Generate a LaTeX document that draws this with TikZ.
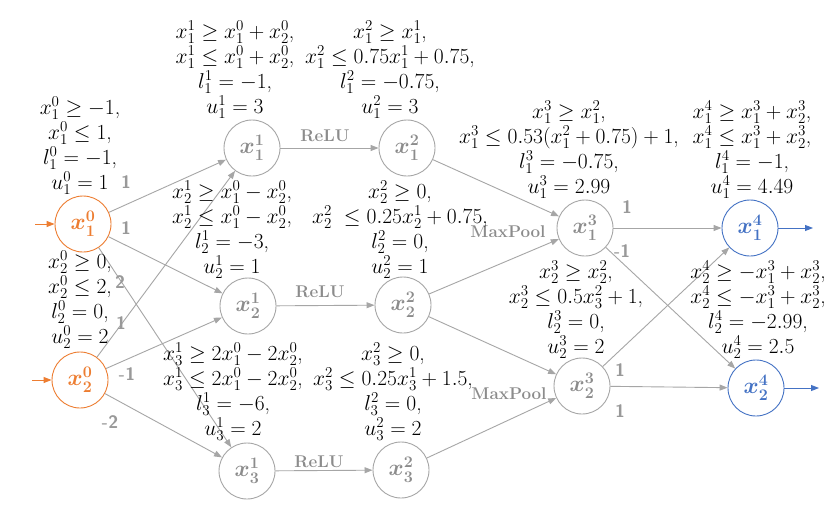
\RequirePackage{fix-cm}
\documentclass[tikz,border=0pt]{standalone}
\usetikzlibrary{arrows.meta}
\definecolor{gr}{HTML}{A6A6A6}
\definecolor{gtext}{HTML}{8C8C8C}
\definecolor{wtext}{HTML}{999999}
\definecolor{org}{HTML}{ED7D31}
\definecolor{blu}{HTML}{4472C4}
\begin{document}
\begin{tikzpicture}[x=1pt,y=-1pt,
 neuron/.style={circle,draw=gr,line width=0.9pt,minimum size=56pt,inner sep=0pt,text=gtext,font=\fontsize{23}{26}\selectfont\boldmath},
 inneuron/.style={neuron,draw=org,text=org},
 outneuron/.style={neuron,draw=blu,text=blu},
 conn/.style={draw=gr,line width=0.9pt,-{Triangle[length=8pt,width=6pt]}},
 inconn/.style={conn,draw=org,fill=org},
 outconn/.style={conn,draw=blu,fill=blu},
 wlab/.style={text=wtext,font=\fontsize{18}{20}\sffamily\bfseries\selectfont,inner sep=0pt},
 oplab/.style={text=gtext,font=\fontsize{17}{20}\bfseries\selectfont,inner sep=0pt},
 cons/.style={align=center,font=\fontsize{21.5}{25}\selectfont,inner sep=0pt}]
\fill[white] (0,0) rectangle (832,514);
\useasboundingbox (0,0) rectangle (832,514);
% neurons
\node[inneuron] (a1) at (83,224) {$x^{0}_{1}$};
\node[inneuron] (a2) at (80,380) {$x^{0}_{2}$};
\node[neuron] (b1) at (252,148) {$x^{1}_{1}$};
\node[neuron] (b2) at (248,306) {$x^{1}_{2}$};
\node[neuron] (b3) at (247,471) {$x^{1}_{3}$};
\node[neuron] (c1) at (407,148) {$x^{2}_{1}$};
\node[neuron] (c2) at (403,305) {$x^{2}_{2}$};
\node[neuron] (c3) at (401,470) {$x^{2}_{3}$};
\node[neuron] (d1) at (585,228) {$x^{3}_{1}$};
\node[neuron] (d2) at (582,386) {$x^{3}_{2}$};
\node[outneuron] (e1) at (750,228) {$x^{4}_{1}$};
\node[outneuron] (e2) at (756,388) {$x^{4}_{2}$};
% in / out
\coordinate (i1) at (35,224);
\coordinate (i2) at (32,380);
\coordinate (o1) at (813,228);
\coordinate (o2) at (819,388);
\draw[inconn] (i1) -- (a1);
\draw[inconn] (i2) -- (a2);
\draw[outconn] (e1) -- (o1);
\draw[outconn] (e2) -- (o2);
% connections
\draw[conn] (a1) -- (b1);
\draw[conn] (a1) -- (b2);
\draw[conn] (a1) -- (b3);
\draw[conn] (a2) -- (b1);
\draw[conn] (a2) -- (b2);
\draw[conn] (a2) -- (b3);
\draw[conn] (b1) -- (c1);
\draw[conn] (b2) -- (c2);
\draw[conn] (b3) -- (c3);
\draw[conn] (c1) -- (d1);
\draw[conn] (c2) -- (d1);
\draw[conn] (c2) -- (d2);
\draw[conn] (c3) -- (d2);
\draw[conn] (d1) -- (e1);
\draw[conn] (d1) -- (e2);
\draw[conn] (d2) -- (e1);
\draw[conn] (d2) -- (e2);
% weights
\node[wlab] (w1) at (126,182) {1};
\node[wlab] (w2) at (126,228) {1};
\node[wlab] (w3) at (120,282) {2};
\node[wlab] (w4) at (121,323) {1};
\node[wlab] (w5) at (127,374) {-1};
\node[wlab] (w6) at (110,422) {-2};
\node[wlab] (w7) at (627,207) {1};
\node[wlab] (w8) at (622,251) {-1};
\node[wlab] (w9) at (620,370) {1};
\node[wlab] (w10) at (620,411) {1};
% operations
\node[oplab] (r1) at (325,136) {ReLU};
\node[oplab] (r2) at (320,292) {ReLU};
\node[oplab] (r3) at (319,462) {ReLU};
\node[oplab] (m1) at (508,232) {MaxPool};
\node[oplab] (m2) at (509,394) {MaxPool};
% constraints
\node[cons] (ta1) at (80,146) {$x^0_1\geq -1$,\\ $x^0_1\leq 1$,\\ $l^0_1=-1$,\\ $u^0_1=1$};
\node[cons] (ta2) at (80,300) {$x^0_2\geq 0$,\\ $x^0_2\leq 2$,\\ $l^0_2=0$,\\ $u^0_2=2$};
\node[cons] (tb1) at (235,70) {$x^1_1\geq x^0_1+x^0_2$,\\ $x^1_1\leq x^0_1+x^0_2$,\\ $l^1_1=-1$,\\ $u^1_1=3$};
\node[cons] (tb2) at (232,230) {$x^1_2\geq x^0_1-x^0_2$,\\ $x^1_2\leq x^0_1-x^0_2$,\\ $l^1_2=-3$,\\ $u^1_2=1$};
\node[cons] (tb3) at (233,392) {$x^1_3\geq 2x^0_1-2x^0_2$,\\ $x^1_3\leq 2x^0_1-2x^0_2$,\\ $l^1_3=-6$,\\ $u^1_3=2$};
\node[cons] (tc1) at (390,70) {$x^2_1\geq x^1_1$,\\ $x^2_1\leq 0.75x^1_1+0.75$,\\ $l^2_1=-0.75$,\\ $u^2_1=3$};
\node[cons] (tc2) at (400,230) {$x^2_2\geq 0$,\\ $x^2_2\;\leq 0.25x^1_2+0.75$,\\ $l^2_2=0$,\\ $u^2_2=1$};
\node[cons] (tc3) at (393,392) {$x^2_3\geq 0$,\\ $x^2_3\leq 0.25x^1_3+1.5$,\\ $l^2_3=0$,\\ $u^2_3=2$};
\node[cons] (td1) at (569,150) {$x^3_1\geq x^2_1$,\\ $x^3_1\leq 0.53(x^2_1+0.75)+1$,\\ $l^3_1=-0.75$,\\ $u^3_1=2.99$};
\node[cons] (td2) at (576,310) {$x^3_2\geq x^2_2$,\\ $x^3_2\leq 0.5x^2_3+1$,\\ $l^3_2=0$,\\ $u^3_2=2$};
\node[cons] (te1) at (752,150) {$x^4_1\geq x^3_1+x^3_2$,\\ $x^4_1\leq x^3_1+x^3_2$,\\ $l^4_1=-1$,\\ $u^4_1=4.49$};
\node[cons] (te2) at (758,310) {$x^4_2\geq -x^3_1+x^3_2$,\\ $x^4_2\leq -x^3_1+x^3_2$,\\ $l^4_2=-2.99$,\\ $u^4_2=2.5$};
\end{tikzpicture}
\end{document}
